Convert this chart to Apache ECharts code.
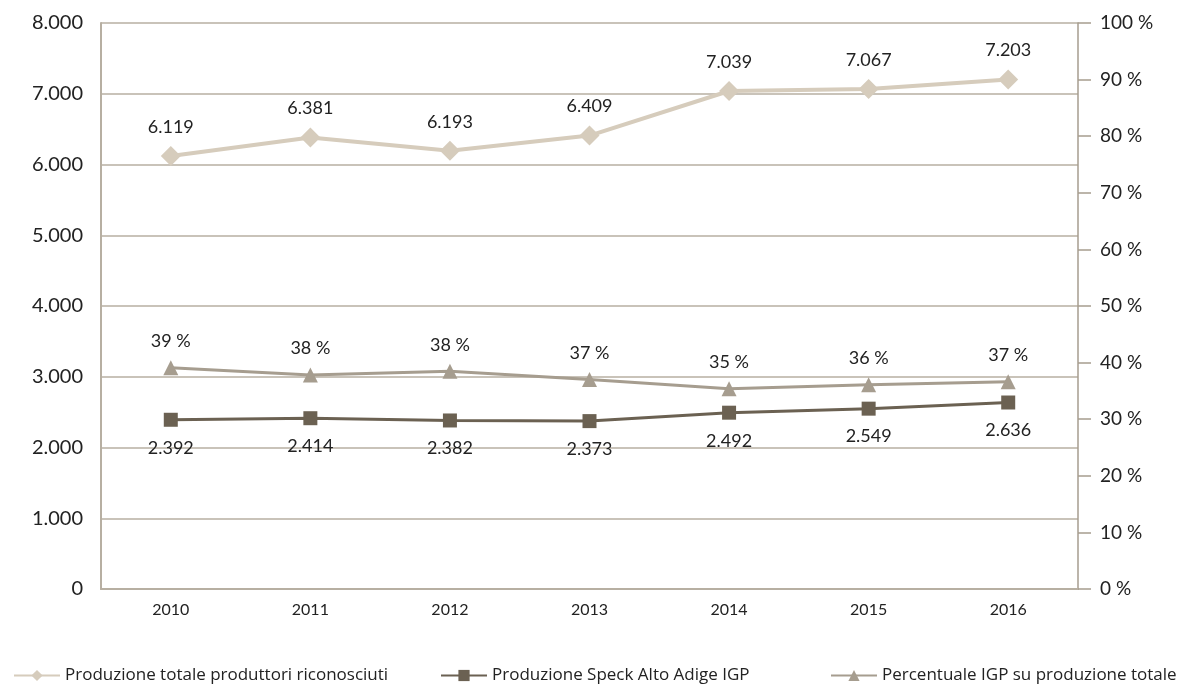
<!DOCTYPE html>
<html><head><meta charset="utf-8">
<script src="https://cdn.jsdelivr.net/npm/echarts@6/dist/echarts.min.js"></script>
<style>html,body{margin:0;padding:0;background:#fff}#c{width:1183px;height:684px}</style>
</head><body><div id="c"></div>
<script>
const years = ['2010','2011','2012','2013','2014','2015','2016'];
const totale = [6119, 6381, 6193, 6409, 7039, 7067, 7203];
const speck = [2392, 2414, 2382, 2373, 2492, 2549, 2636];
const percentuale = [39.09, 37.83, 38.46, 37.03, 35.40, 36.07, 36.60];
const seriesNames = ['Produzione totale produttori riconosciuti', 'Produzione Speck Alto Adige IGP', 'Percentuale IGP su produzione totale'];

const fmt = v => String(v).replace(/\B(?=(\d{3})+(?!\d))/g, '.');
const font = 'Lato, "Open Sans", sans-serif';
const legendFont = {fontFamily: '"Open Sans", sans-serif', fontSize: 17, color: '#222'};
const legendLefts = [8, 435, 825];
const chart = echarts.init(document.getElementById('c'));
chart.setOption({
  animation: false,
  grid: {left: 101, right: 105, top: 23, bottom: 95},
  legend: seriesNames.map((n, i) => ({
    top: 662, left: legendLefts[i], itemWidth: 46, itemHeight: 14, itemGap: 0,
    textStyle: legendFont, data: [n]
  })),
  xAxis: {
    type: 'category', data: years, boundaryGap: true,
    axisLine: {lineStyle: {color: '#b7afa2', width: 2}},
    axisTick: {show: false},
    axisLabel: {fontFamily: font, fontSize: 16, color: '#222', margin: 13}
  },
  yAxis: [{
    type: 'value', min: 0, max: 8000, interval: 1000,
    axisLine: {show: true, lineStyle: {color: '#b7afa2', width: 2}},
    axisTick: {show: false},
    splitLine: {lineStyle: {color: '#b7afa2', width: 1.5}},
    axisLabel: {fontFamily: font, fontSize: 20, color: '#222', margin: 18, formatter: v => fmt(v)}
  }, {
    type: 'value', min: 0, max: 100, interval: 10, position: 'right',
    axisLine: {show: true, lineStyle: {color: '#a69d8f', width: 1.5}},
    axisTick: {show: true, inside: false, length: 13, lineStyle: {color: '#a69d8f', width: 1.5}},
    splitLine: {show: false},
    axisLabel: {fontFamily: font, fontSize: 19, color: '#222', margin: 22, formatter: v => v + ' %'}
  }],
  series: [{
    name: seriesNames[0], type: 'line', data: totale,
    symbol: 'diamond', symbolSize: 20,
    lineStyle: {color: '#d6ccbc', width: 4}, itemStyle: {color: '#d6ccbc'},
    label: {show: true, position: 'top', distance: 10, fontFamily: font, fontSize: 18, color: '#222', formatter: p => fmt(p.value)}
  }, {
    name: seriesNames[1], type: 'line', data: speck,
    symbol: 'rect', symbolSize: 14,
    lineStyle: {color: '#6b6152', width: 3}, itemStyle: {color: '#6b6152'},
    label: {show: true, position: 'bottom', distance: 12, fontFamily: font, fontSize: 18, color: '#222', formatter: p => fmt(p.value)}
  }, {
    name: seriesNames[2], type: 'line', data: percentuale, yAxisIndex: 1,
    symbol: 'triangle', symbolSize: 15,
    lineStyle: {color: '#a69d8f', width: 3}, itemStyle: {color: '#a69d8f'},
    label: {show: true, position: 'top', distance: 10, fontFamily: font, fontSize: 18, color: '#222', formatter: p => Math.round(p.value) + ' %'}
  }]
});
</script></body></html>
